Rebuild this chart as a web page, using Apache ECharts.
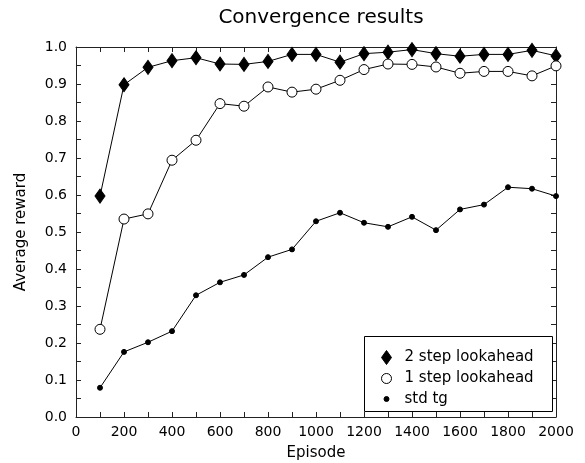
<!DOCTYPE html>
<html><head><meta charset="utf-8">
<script src="https://cdn.jsdelivr.net/npm/echarts@6/dist/echarts.min.js"></script>
<style>html,body{margin:0;padding:0;background:#fff}#c{width:585px;height:463px}</style>
</head><body><div id="c"></div>
<script>
const episodes = [100,200,300,400,500,600,700,800,900,1000,1100,1200,1300,1400,1500,1600,1700,1800,1900,2000];
const twoStep = [0.597,0.898,0.945,0.963,0.971,0.954,0.953,0.961,0.980,0.980,0.959,0.982,0.986,0.993,0.982,0.975,0.980,0.980,0.991,0.976];
const oneStep = [0.237,0.535,0.549,0.694,0.748,0.847,0.840,0.892,0.878,0.886,0.910,0.939,0.954,0.953,0.946,0.929,0.934,0.934,0.922,0.949];
const stdTg = [0.079,0.176,0.202,0.232,0.329,0.364,0.384,0.432,0.453,0.529,0.552,0.525,0.514,0.541,0.505,0.561,0.574,0.621,0.617,0.597];
const seriesNames = ['2 step lookahead','1 step lookahead','std tg'];
const titleText = 'Convergence results';
const xName = 'Episode', yName = 'Average reward';

const F = 'DejaVu Sans';
const pair = arr => episodes.map((e,i)=>[e,arr[i]]);
const axisCommon = () => ({
  axisLine:{show:true,onZero:false,lineStyle:{color:'#222',width:1}},
  axisTick:{show:true,inside:true,length:5,lineStyle:{color:'#222'}},
  minorTick:{show:true,splitNumber:2,length:5,lineStyle:{color:'#222'}},
  splitLine:{show:false}
});
const chart = echarts.init(document.getElementById('c'),null,{renderer:'canvas'});
const lineS = (name,data,symbol,size,fill)=>({
  name,type:'line',data:pair(data),xAxisIndex:0,yAxisIndex:0,
  symbol,symbolSize:size,showSymbol:true,
  lineStyle:{color:'#000',width:1},
  itemStyle:{color:fill,borderColor:'#000',borderWidth:1},
  z:3,animation:false
});
const legendRow = (name,icon,w,h,top,fill)=>({
  data:[{name,icon,itemStyle:{color:fill,borderColor:'#000',borderWidth:1}}],orient:'vertical',left:386-w/2,top:top-h/2,itemWidth:w,itemHeight:h,
  padding:0,selectedMode:false,
  textStyle:{fontFamily:F,fontSize:15,color:'#000',padding:[0,0,0,13-w/2]},
  z:10
});
chart.setOption({
  animation:false,
  backgroundColor:'#fff',
  title:{text:titleText,left:316,textAlign:'center',top:3,textStyle:{fontFamily:F,fontSize:20,fontWeight:'normal',color:'#000'}},
  grid:{left:76,right:29,top:47,bottom:46,containLabel:false,outerBoundsMode:'none'},
  xAxis:[
    Object.assign({type:'value',min:0,max:2000,interval:200,position:'bottom',
      name:xName,nameLocation:'middle',nameGap:29,nameTextStyle:{fontFamily:F,fontSize:15,color:'#000'},
      axisLabel:{fontFamily:F,fontSize:14,color:'#000',margin:8,formatter:v=>String(v)}},axisCommon()),
    Object.assign({type:'value',min:0,max:2000,interval:200,position:'top',axisLabel:{show:false}},axisCommon())
  ],
  yAxis:[
    Object.assign({type:'value',min:0,max:1,interval:0.1,position:'left',
      name:yName,nameLocation:'middle',nameGap:47,nameTextStyle:{fontFamily:F,fontSize:15,color:'#000'},
      axisLabel:{fontFamily:F,fontSize:14,color:'#000',margin:9,formatter:v=>v.toFixed(1)}},axisCommon()),
    Object.assign({type:'value',min:0,max:1,interval:0.1,position:'right',axisLabel:{show:false}},axisCommon())
  ],
  legend:[
    legendRow(seriesNames[0],'diamond',10,14,357,'#000'),
    legendRow(seriesNames[1],'circle',10,10,376,'#fff'),
    legendRow(seriesNames[2],'circle',5,5,394,'#000')
  ],
  graphic:[{type:'rect',left:364,top:336,shape:{width:188,height:75},style:{fill:'#fff',stroke:'#000',lineWidth:1},z:5}],
  series:[
    lineS(seriesNames[0],twoStep,'diamond',[10,14],'#000'),
    lineS(seriesNames[1],oneStep,'circle',10,'#fff'),
    lineS(seriesNames[2],stdTg,'circle',5,'#000')
  ]
});
</script></body></html>
